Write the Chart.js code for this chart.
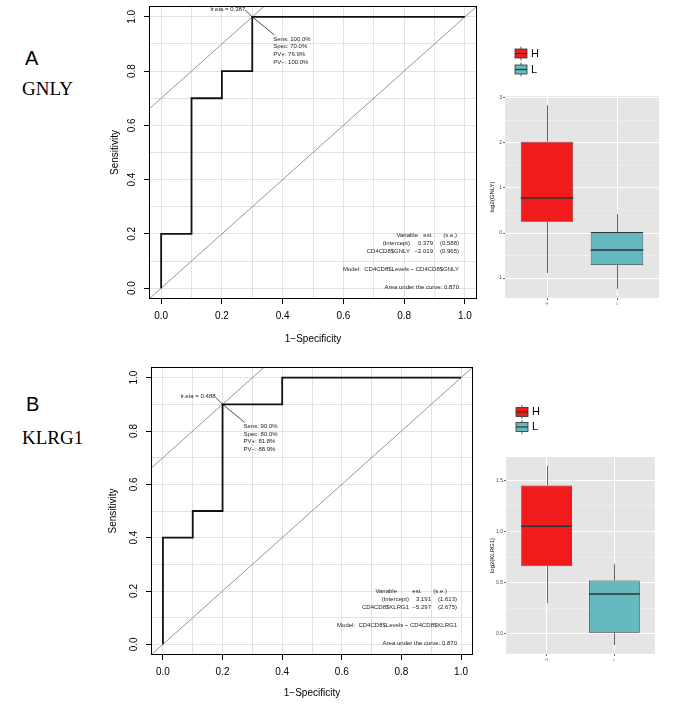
<!DOCTYPE html>
<html>
<head>
<meta charset="utf-8">
<script src="https://cdn.jsdelivr.net/npm/chart.js@4.4.0/dist/chart.umd.min.js"></script>
<style>
  body { margin: 0; background: #fff; width: 685px; height: 704px; position: relative; overflow: hidden; }
  canvas { position: absolute; }
  .lbl { position: absolute; color: #000; white-space: nowrap; }
  .sans { font-family: 'Liberation Sans', Arial, sans-serif; }
  .serif { font-family: 'Liberation Serif', 'Times New Roman', serif; }
</style>
</head>
<body>
<div class="lbl sans" style="left:25px;top:48px;font-size:20px;line-height:20px">A</div>
<div class="lbl serif" style="left:22px;top:79px;font-size:19px;line-height:19px">GNLY</div>
<div class="lbl sans" style="left:26px;top:394px;font-size:20px;line-height:20px">B</div>
<div class="lbl serif" style="left:22px;top:428px;font-size:19px;line-height:19px">KLRG1</div>

<canvas id="rocA" width="385" height="350" style="left:100px;top:0px"></canvas>
<canvas id="boxA" width="205" height="290" style="left:480px;top:30px"></canvas>
<canvas id="rocB" width="385" height="344" style="left:100px;top:360px"></canvas>
<canvas id="boxB" width="205" height="300" style="left:480px;top:380px"></canvas>

<script>
Chart.defaults.font.family = "'Liberation Sans', Arial, Helvetica, sans-serif";
Chart.defaults.color = '#000';
Chart.defaults.animation = false;

// ---- ROC curves (1-specificity vs sensitivity) ----
const rocGrid = [0, 0.1, 0.2, 0.3, 0.4, 0.5, 0.6, 0.7, 0.8, 0.9, 1.0];
const rocTicks = [0, 0.2, 0.4, 0.6, 0.8, 1.0];
const rocMin = -0.04, rocMax = 1.04;

const gnlyFpr  = [0, 0, 0.1, 0.1, 0.2, 0.2, 0.3, 0.3, 1.0];
const gnlySens = [0, 0.2, 0.2, 0.7, 0.7, 0.8, 0.8, 1.0, 1.0];
const gnlyCut  = [0.3, 1.0];
const gnlyLrEta = 'lr.eta = 0.387';
const gnlyStats = ['Sens: 100.0%', 'Spec: 70.0%', 'PV+: 76.9%', 'PV\u2212: 100.0%'];
const gnlyTable = [
  ['Variable', 'est.', '(s.e.)'],
  ['(Intercept)', '0.379', '(0.588)'],
  ['CD4CD8$GNLY', '\u22122.019', '(0.965)']
];
const gnlyModel = 'Model:  CD4CD8$Levels ~ CD4CD8$GNLY';
const gnlyAuc = 'Area under the curve: 0.870';

const klrgFpr  = [0, 0, 0.1, 0.1, 0.2, 0.2, 0.4, 0.4, 1.0];
const klrgSens = [0, 0.4, 0.4, 0.5, 0.5, 0.9, 0.9, 1.0, 1.0];
const klrgCut  = [0.2, 0.9];
const klrgLrEta = 'lr.eta = 0.488';
const klrgStats = ['Sens: 90.0%', 'Spec: 80.0%', 'PV+: 81.8%', 'PV\u2212: 88.9%'];
const klrgTable = [
  ['Variable', 'est.', '(s.e.)'],
  ['(Intercept)', '3.191', '(1.613)'],
  ['CD4CD8$KLRG1', '\u22125.297', '(2.675)']
];
const klrgModel = 'Model:  CD4CD8$Levels ~ CD4CD8$KLRG1';
const klrgAuc = 'Area under the curve: 0.870';

// ---- boxplots (log2 expression by group) ----
const groups = ['H', 'L'];
const groupColors = ['#F21B1B', '#64B9BE'];

const gnlyMin = [-0.89, -1.24];
const gnlyQ1  = [0.25, -0.71];
const gnlyMed = [0.78, -0.38];
const gnlyQ3  = [2.03, 0.02];
const gnlyMax = [2.84, 0.42];
const gnlyTicks = [-1, 0, 1, 2, 3];
const gnlyMinor = [-0.5, 0.5, 1.5, 2.5];

const klrgMin = [0.30, -0.11];
const klrgQ1  = [0.66, 0.01];
const klrgMed = [1.05, 0.39];
const klrgQ3  = [1.45, 0.52];
const klrgMax = [1.64, 0.68];
const klrgTicks = [0, 0.5, 1.0, 1.5];
const klrgMinor = [0.25, 0.75, 1.25];

const SANS = "'Liberation Sans', Arial, sans-serif";

function fixSize(size) {
  return s => { if (s.isHorizontal()) s.height = size; else s.width = size; };
}

// frame, rotated y labels and the cut-point / model notes (R style)
function rocNotes(o) {
  return {
    id: 'rocNotes',
    afterDraw(chart) {
      const { ctx, chartArea: a, scales: { x, y } } = chart;
      ctx.save();
      ctx.strokeStyle = '#000';
      ctx.lineWidth = 1;
      ctx.strokeRect(a.left + 0.5, a.top + 0.5, a.right - a.left - 1, a.bottom - a.top - 1);

      ctx.fillStyle = '#000';
      ctx.font = '10px ' + SANS;
      ctx.textAlign = 'center';
      ctx.textBaseline = 'middle';
      rocTicks.forEach(v => {
        ctx.save();
        ctx.translate(a.left - 17, y.getPixelForValue(v));
        ctx.rotate(-Math.PI / 2);
        ctx.fillText(v.toFixed(1), 0, 0);
        ctx.restore();
      });

      const px = x.getPixelForValue(o.cut[0]);
      const py = y.getPixelForValue(o.cut[1]);
      ctx.lineWidth = 0.7;
      ctx.beginPath();
      ctx.moveTo(px - 7, py - 7);
      ctx.lineTo(px, py);
      ctx.lineTo(px + 22, py + 18);
      ctx.stroke();

      ctx.font = '6px ' + SANS;
      ctx.fillStyle = '#222';
      ctx.textAlign = 'right';
      ctx.fillText(o.lrEta, px - 7, py - 8);
      ctx.textAlign = 'left';
      o.stats.forEach((s, i) => ctx.fillText(s, px + 21, py + 22 + i * 7.7));

      ctx.textAlign = 'right';
      o.table.forEach((row, r) => {
        const cols = r === 0 ? o.headCols : o.rowCols;
        row.forEach((cell, k) => ctx.fillText(cell, a.right - cols[k], a.bottom - 64 + r * 8));
      });
      ctx.fillText(o.model, a.right - o.edge, a.bottom - 30);
      ctx.fillText(o.auc, a.right - o.edge, a.bottom - 12);
      ctx.restore();
    }
  };
}

function rocChart(id, o) {
  const curve = o.fpr.map((v, i) => ({ x: v, y: o.sens[i] }));
  const c = o.cut[1] - o.cut[0]; // slope-1 line through the cut point
  const tangent = [{ x: rocMin, y: rocMin + c }, { x: rocMax - c, y: rocMax }];
  const diag = [{ x: rocMin, y: rocMin }, { x: rocMax, y: rocMax }];
  const major = v => rocTicks.includes(v);

  const axis = (title, pad, size) => ({
    type: 'linear',
    min: rocMin,
    max: rocMax,
    afterBuildTicks: s => { s.ticks = rocGrid.map(v => ({ value: v })); },
    afterFit: fixSize(size),
    ticks: {
      autoSkip: false,
      maxRotation: 0,
      padding: 6,
      font: { size: 10 },
      color: '#000',
      callback: v => (major(v) ? v.toFixed(1) : '')
    },
    grid: {
      color: '#E2E2E2',
      lineWidth: 1,
      tickLength: 5,
      tickColor: ctx => (major(ctx.tick.value) ? '#000' : 'rgba(0,0,0,0)')
    },
    border: { display: false },
    title: { display: true, text: title, font: { size: 10 }, color: '#000', padding: pad }
  });

  const xAxis = axis('1\u2212Specificity', { top: 0, bottom: 5 }, o.xH);
  const yAxis = axis('Sensitivity', { top: o.yTitlePad, bottom: 0 }, o.yW);
  yAxis.ticks.display = false;

  new Chart(document.getElementById(id), {
    type: 'scatter',
    data: {
      datasets: [
        { data: curve, showLine: true, borderColor: '#111', borderWidth: 1.8, pointRadius: 0 },
        { data: diag, showLine: true, borderColor: '#8a8a8a', borderWidth: 0.9, pointRadius: 0 },
        { data: tangent, showLine: true, borderColor: '#8a8a8a', borderWidth: 0.9, pointRadius: 0 }
      ]
    },
    options: {
      responsive: false,
      animation: false,
      layout: { padding: o.pad },
      plugins: { legend: { display: false }, tooltip: { enabled: false } },
      scales: { x: xAxis, y: yAxis }
    },
    plugins: [rocNotes(o)]
  });
}

// grey panel, whiskers, medians and the boxplot-glyph legend (ggplot style)
function boxBits(o) {
  return {
    id: 'boxBits',
    beforeDraw(chart) {
      const { ctx, chartArea: a } = chart;
      ctx.save();
      ctx.fillStyle = '#E5E5E5';
      ctx.fillRect(a.left, a.top, a.right - a.left, a.bottom - a.top);
      ctx.restore();
    },
    afterDatasetsDraw(chart) {
      const { ctx, scales: { x, y } } = chart;
      const bars = chart.getDatasetMeta(0).data;
      ctx.save();
      groups.forEach((g, i) => {
        const cx = Math.round(x.getPixelForValue(i + 1)) + 0.5;
        ctx.strokeStyle = '#555';
        ctx.lineWidth = 0.9;
        ctx.beginPath();
        ctx.moveTo(cx, y.getPixelForValue(o.q3[i]));
        ctx.lineTo(cx, y.getPixelForValue(o.max[i]));
        ctx.moveTo(cx, y.getPixelForValue(o.q1[i]));
        ctx.lineTo(cx, y.getPixelForValue(o.min[i]));
        ctx.stroke();
        const half = bars[i].width / 2;
        const ym = y.getPixelForValue(o.med[i]);
        ctx.strokeStyle = '#333';
        ctx.lineWidth = 1.5;
        ctx.beginPath();
        ctx.moveTo(bars[i].x - half, ym);
        ctx.lineTo(bars[i].x + half, ym);
        ctx.stroke();
      });
      ctx.restore();
    },
    afterDraw(chart) {
      const { ctx, chartArea: a } = chart;
      ctx.save();
      groups.forEach((g, i) => {
        const cy = o.legendY[i];
        const kx = a.left + 10;
        ctx.strokeStyle = '#333';
        ctx.lineWidth = 0.8;
        ctx.beginPath();
        ctx.moveTo(kx + 6, cy - 7);
        ctx.lineTo(kx + 6, cy + 7);
        ctx.stroke();
        ctx.fillStyle = groupColors[i];
        ctx.fillRect(kx, cy - 4.5, 12, 9);
        ctx.strokeRect(kx, cy - 4.5, 12, 9);
        ctx.lineWidth = 1.2;
        ctx.beginPath();
        ctx.moveTo(kx, cy);
        ctx.lineTo(kx + 12, cy);
        ctx.stroke();
        ctx.fillStyle = '#000';
        ctx.font = '11px ' + SANS;
        ctx.textBaseline = 'middle';
        ctx.fillText(g, kx + 16, cy);
      });
      ctx.restore();
    }
  };
}

function boxChart(id, o) {
  const lo = Math.min(...o.min), hi = Math.max(...o.max);
  const ext = (hi - lo) * 0.05;
  const allTicks = o.ticks.concat(o.minor).sort((p, q) => p - q);
  const major = v => o.ticks.includes(v);

  new Chart(document.getElementById(id), {
    type: 'bar',
    data: {
      datasets: [{
        data: groups.map((g, i) => ({ x: i + 1, y: [o.q1[i], o.q3[i]] })),
        backgroundColor: groupColors,
        borderColor: '#333',
        borderWidth: 0.8,
        borderSkipped: false,
        barPercentage: 0.75,
        categoryPercentage: 1
      }]
    },
    options: {
      responsive: false,
      animation: false,
      layout: { padding: o.pad },
      plugins: { legend: { display: false }, tooltip: { enabled: false } },
      scales: {
        x: {
          type: 'linear',
          min: 0.4,
          max: 2.6,
          offset: false,
          afterBuildTicks: s => { s.ticks = groups.map((g, i) => ({ value: i + 1 })); },
          afterFit: fixSize(o.xH),
          ticks: { callback: v => groups[v - 1], font: { size: 4 }, color: '#7f7f7f', padding: 1 },
          grid: { offset: false, color: '#ffffff', lineWidth: 1, tickLength: 2, tickColor: '#666' },
          border: { display: false }
        },
        y: {
          min: lo - ext,
          max: hi + ext,
          afterBuildTicks: s => { s.ticks = allTicks.map(v => ({ value: v })); },
          afterFit: fixSize(o.yW),
          ticks: {
            autoSkip: false,
            padding: 1,
            font: { size: 5 },
            color: '#4d4d4d',
            callback: v => (major(v) ? o.fmt(v) : '')
          },
          grid: {
            color: ctx => (major(ctx.tick.value) ? '#ffffff' : '#F2F2F2'),
            lineWidth: ctx => (major(ctx.tick.value) ? 1 : 0.6),
            tickLength: 2,
            tickColor: ctx => (major(ctx.tick.value) ? '#666' : 'rgba(0,0,0,0)')
          },
          border: { display: false },
          title: { display: true, text: o.title, font: { size: 6 }, color: '#000', padding: { top: 9, bottom: 0 } }
        }
      }
    },
    plugins: [boxBits(o)]
  });
}

rocChart('rocA', {
  fpr: gnlyFpr, sens: gnlySens, cut: gnlyCut, lrEta: gnlyLrEta, stats: gnlyStats,
  table: gnlyTable, model: gnlyModel, auc: gnlyAuc,
  headCols: [59, 44, 20], rowCols: [67, 44, 18], edge: 18,
  pad: { left: 0, right: 8, top: 6, bottom: 0 }, yW: 49, xH: 51, yTitlePad: 9
});

rocChart('rocB', {
  fpr: klrgFpr, sens: klrgSens, cut: klrgCut, lrEta: klrgLrEta, stats: klrgStats,
  table: klrgTable, model: klrgModel, auc: klrgAuc,
  headCols: [76, 51, 26], rowCols: [64, 42, 16], edge: 16,
  pad: { left: 0, right: 12, top: 7, bottom: 0 }, yW: 51, xH: 49, yTitlePad: 7
});

boxChart('boxA', {
  min: gnlyMin, q1: gnlyQ1, med: gnlyMed, q3: gnlyQ3, max: gnlyMax,
  ticks: gnlyTicks, minor: gnlyMinor, fmt: v => String(v), title: 'log2(GNLY)',
  pad: { left: 0, right: 26, top: 66, bottom: 0 }, yW: 25, xH: 22, legendY: [23.5, 39.5]
});

boxChart('boxB', {
  min: klrgMin, q1: klrgQ1, med: klrgMed, q3: klrgQ3, max: klrgMax,
  ticks: klrgTicks, minor: klrgMinor, fmt: v => v.toFixed(1), title: 'log2(KLRG1)',
  pad: { left: 0, right: 30, top: 77, bottom: 0 }, yW: 26, xH: 26, legendY: [32, 47]
});
</script>
</body>
</html>
